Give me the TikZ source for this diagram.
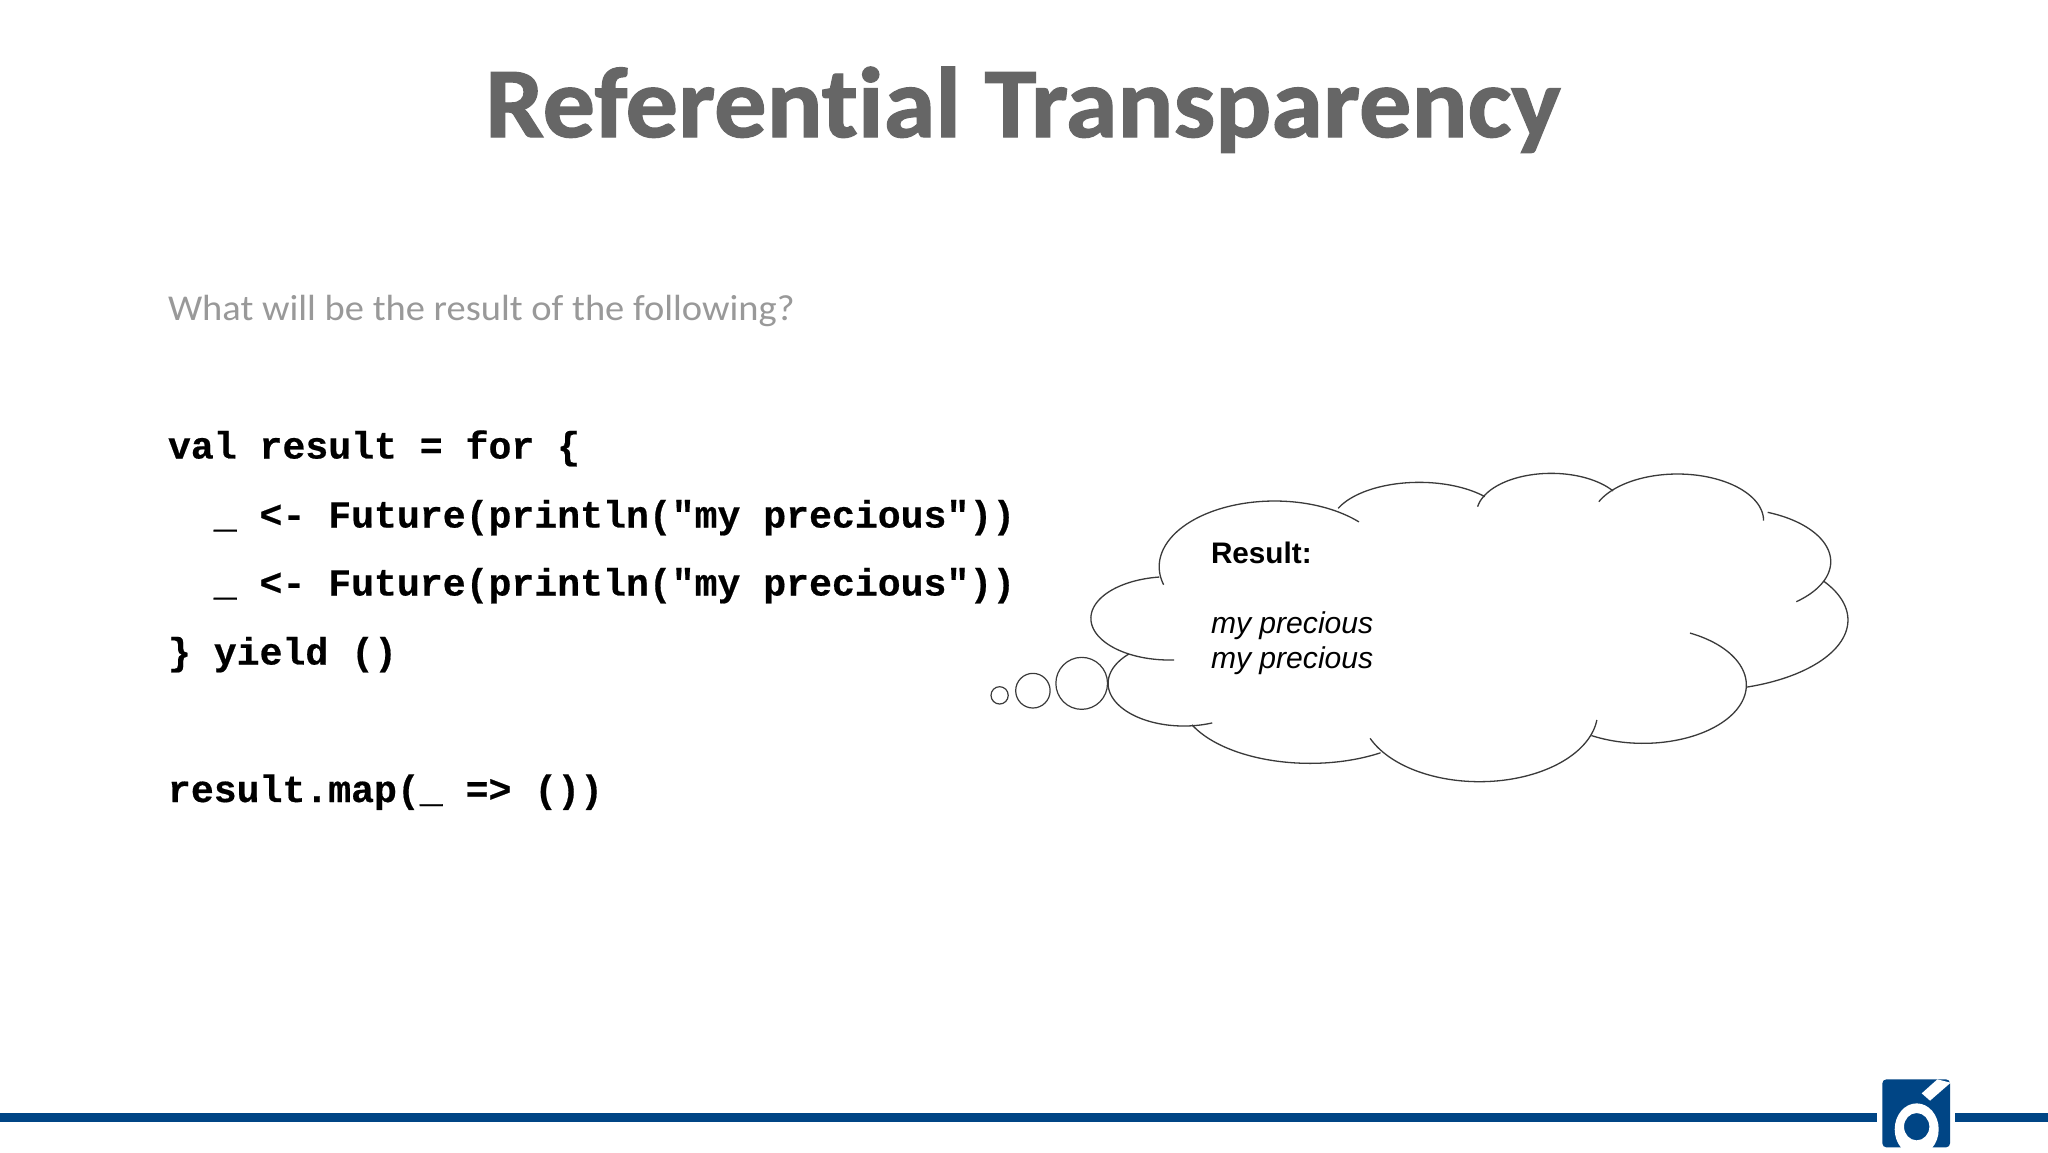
\documentclass[tikz,border=0pt]{standalone}
\usepackage{fontspec}
\setmainfont{Carlito}
\newfontfamily\titlefont[FakeStretch=1.045,FakeBold=1.3,RawFeature={-liga}]{Carlito Bold}
\newfontfamily\leadfont[FakeStretch=1.057,RawFeature={-liga}]{Carlito}
\newfontfamily\codefont[FakeBold=0.5]{Liberation Mono Bold}
\newfontfamily\armfont{Liberation Sans}
\definecolor{titlegray}{HTML}{666666}
\definecolor{subgray}{HTML}{999999}
\definecolor{barblue}{HTML}{004585}
\definecolor{cloudline}{HTML}{3A3A3A}
\newcommand{\lobearc}[6]{\draw[lobe] plot[domain=#5:#6,samples=70] ({#1+#3*cos(\x)},{#2+#4*sin(\x)});}
\tikzset{
  txt/.style={inner sep=0pt,outer sep=0pt,anchor=base west},
  code/.style={txt,text=black,font=\codefont\fontsize{19.08}{19.08}\selectfont},
  result/.style={txt,text=black},
  lobe/.style={draw=cloudline,line width=0.65pt},
  bubble/.style={draw=cloudline,line width=0.6pt}
}
\begin{document}
\begin{tikzpicture}[x=0.5pt,y=-0.5pt]
\useasboundingbox (0,0) rectangle (2048,1152);
\fill[white] (0,0) rectangle (2048,1152);
% title and lead
\node[inner sep=0pt,anchor=base,text=titlegray,font=\titlefont\fontsize{50}{50}\selectfont] (title) at (1023,137) {Referential Transparency};
\node[txt,text=subgray,font=\leadfont\fontsize{18.2}{18.2}\selectfont] (lead) at (168,320) {What will be the result of the following?};
% code
\node[code] (c1) at (168,458.5) {val result = for \{};
\node[code] (c2) at (168,527.5) {\ \ \_ <- Future(println("my precious"))};
\node[code] (c3) at (168,595.5) {\ \ \_ <- Future(println("my precious"))};
\node[code] (c4) at (168,664.5) {\} yield ()};
\node[code] (c5) at (168,802) {result.map(\_ => ())};
% cloud, in the crop's coordinates
\begin{scope}[shift={(960,450)},x=0.28699pt,y=-0.16667pt]
\lobearc{548}{350}{201}{197}{164}{317}
\lobearc{800}{227}{154}{130}{203.6}{318}
\lobearc{1030}{190}{130}{120}{189.6}{326}
\lobearc{1250}{212}{150}{140}{204}{360}
\lobearc{1340}{335}{177}{160}{-67.7}{48.6}
\lobearc{1290}{510}{257}{212}{-33.2}{71.9}
\lobearc{1190}{705}{180}{175}{-63}{120}
\lobearc{905}{785}{206}{210}{6.8}{157.6}
\lobearc{610}{740}{227}{200}{57.3}{155}
\lobearc{390}{700}{132}{128}{68}{223.5}
\lobearc{365}{505}{137}{125}{86.6}{262.5}
\draw[bubble] (212,700) ellipse [x radius=45,y radius=78];
\draw[bubble] (127,722) ellipse [x radius=30,y radius=52];
\draw[bubble] (69,736) ellipse [x radius=15,y radius=26];
\end{scope}
% cloud text
\node[result,font=\armfont\bfseries\fontsize{14.85}{14.85}\selectfont] (r0) at (1211,563) {Result:};
\node[result,font=\armfont\itshape\fontsize{15.05}{15.05}\selectfont] (r1) at (1211,633) {my precious};
\node[result,font=\armfont\itshape\fontsize{15.05}{15.05}\selectfont] (r2) at (1211,668) {my precious};
% footer bar and logo
\fill[barblue] (0,1113) rectangle (1877,1122);
\fill[barblue] (1955,1113) rectangle (2048,1122);
\begin{scope}[shift={(1840,1050)},x=0.16667pt,y=-0.16667pt]
\fill[barblue,rounded corners=2pt] (127,88) rectangle (330,292);
\begin{scope}
\clip (127,88) rectangle (330,292);
\fill[white,even odd rule] (230,238) ellipse [x radius=66,y radius=78] (230,230) ellipse [x radius=38,y radius=41];
\fill[white] (245,130) -- (292,88) -- (332,98) -- (270,152) -- cycle;
\end{scope}
\end{scope}
\end{tikzpicture}
\end{document}
